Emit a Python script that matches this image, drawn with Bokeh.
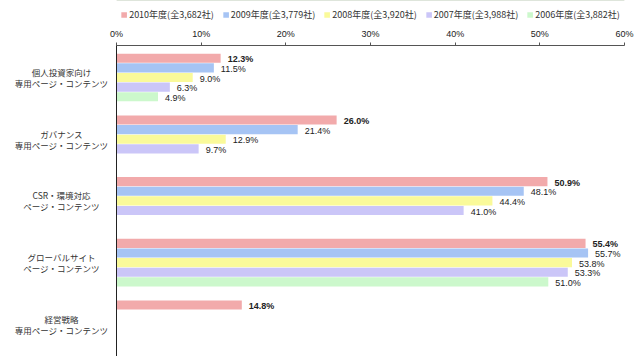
from bokeh.plotting import figure
from bokeh.models import Range1d, FixedTicker, Legend, LegendItem, ColumnDataSource
from bokeh.layouts import column, row
from bokeh.core.properties import value
from bokeh.embed import file_html
from bokeh.resources import INLINE

categories_line1 = ["個人投資家向け", "ガバナンス", "CSR・環境対応", "グローバルサイト", "経営戦略"]
categories_line2 = ["専用ページ・コンテンツ", "専用ページ・コンテンツ", "ページ・コンテンツ", "ページ・コンテンツ", "専用ページ・コンテンツ"]
series_names = ["2010年度(全3,682社)", "2009年度(全3,779社)", "2008年度(全3,920社)",
                "2007年度(全3,988社)", "2006年度(全3,882社)"]
v2010 = [12.3, 26.0, 50.9, 55.4, 14.8]
v2009 = [11.5, 21.4, 48.1, 55.7, None]
v2008 = [9.0, 12.9, 44.4, 53.8, None]
v2007 = [6.3, 9.7, 41.0, 53.3, None]
v2006 = [4.9, None, None, 51.0, None]
series_values = [v2010, v2009, v2008, v2007, v2006]
colors = ["#F2AAAB", "#A6C4F4", "#FAFA9A", "#CBC6F8", "#CCF8CC"]
tick_values = [0, 10, 20, 30, 40, 50, 60]
tick_labels = ["0%", "10%", "20%", "30%", "40%", "50%", "60%"]

FONT = "Noto Sans CJK JP"
STEP = 0.156
BAR_H = 0.148
TOP_BORDER = 21

# ---- legend strip ----
lg = figure(width=640, height=24, x_range=Range1d(0, 1), y_range=Range1d(0, 1),
            output_backend="svg", toolbar_location=None,
            min_border_left=116, min_border_right=16, min_border_top=0, min_border_bottom=0)
lg.axis.visible = False
lg.grid.visible = False
lg.outline_line_color = None
items = []
for name, col in zip(series_names, colors):
    # off-screen proxy bar, only used to draw the legend swatch
    r = lg.hbar(y=[5], right=[1], left=0, height=0.5, fill_color=col, line_color=None)
    items.append(LegendItem(label=name, renderers=[r]))
legend = Legend(items=items, orientation="horizontal", location="top_center",
                label_text_font_size="9px", label_text_font=FONT, label_text_color="#333333",
                glyph_width=7, glyph_height=7, label_standoff=2, spacing=8,
                padding=0, margin=8, border_line_color=None, background_fill_alpha=0,
                label_height=10)
lg.add_layout(legend, "center")

# ---- main chart ----
y_rng = Range1d(4.522, -0.519)
p = figure(width=532, height=332, x_range=Range1d(0, 60), y_range=y_rng,
           x_axis_location="above", output_backend="svg", toolbar_location=None,
           min_border_left=8, min_border_right=16, min_border_top=TOP_BORDER, min_border_bottom=0)
p.outline_line_color = None
p.xgrid.visible = False
p.ygrid.visible = False

for j, (vals, col) in enumerate(zip(series_values, colors)):
    ys, xs, txt = [], [], []
    for i, v in enumerate(vals):
        if v is None:
            continue
        ys.append(i + (j - 2) * STEP)
        xs.append(v)
        txt.append(f"{v:.1f}%")
    src = ColumnDataSource(dict(y=ys, x=xs, t=txt))
    p.hbar(y="y", right="x", left=0, height=BAR_H, source=src, fill_color=col, line_color=None)
    p.text(x="x", y="y", text="t", source=src, x_offset=7, y_offset=1,
           text_baseline="middle", text_align="left", text_font_size="9px",
           text_font=value("Liberation Sans"), text_color="#222222",
           text_font_style="bold" if j == 0 else "normal")

xa = p.xaxis[0]
xa.ticker = FixedTicker(ticks=tick_values)
xa.major_label_overrides = {t: l for t, l in zip(tick_values, tick_labels)}
xa.major_label_text_font_size = "9px"
xa.major_label_text_font = "Liberation Sans"
xa.major_label_text_color = "#222222"
xa.major_tick_out = 3
xa.major_tick_in = 0
xa.minor_tick_line_color = None
xa.axis_line_color = "#555555"
xa.major_tick_line_color = "#555555"
xa.major_label_standoff = 4

ya = p.yaxis[0]
ya.ticker = FixedTicker(ticks=[])
ya.major_tick_line_color = None
ya.minor_tick_line_color = None
ya.major_label_standoff = 0
ya.axis_line_color = "#222222"

# ---- category label column ----
lf = figure(width=108, height=332, x_range=Range1d(0, 1), y_range=y_rng,
            output_backend="svg", toolbar_location=None,
            min_border_left=0, min_border_right=0, min_border_top=TOP_BORDER, min_border_bottom=0)
lf.axis.visible = False
lf.grid.visible = False
lf.outline_line_color = None
cat_src = ColumnDataSource(dict(y=list(range(len(categories_line1))),
                                l1=categories_line1, l2=categories_line2,
                                x=[0.565] * len(categories_line1)))
for col_name, dy in (("l1", -5.5), ("l2", 5.5)):
    lf.text(x="x", y="y", text=col_name, source=cat_src, y_offset=dy,
            text_align="center", text_baseline="middle", text_font_size="8.5px",
            text_font=value(FONT), text_color="#333333")

open("out.html", "w").write(file_html(column(lg, row(lf, p, spacing=0), spacing=0), INLINE))
